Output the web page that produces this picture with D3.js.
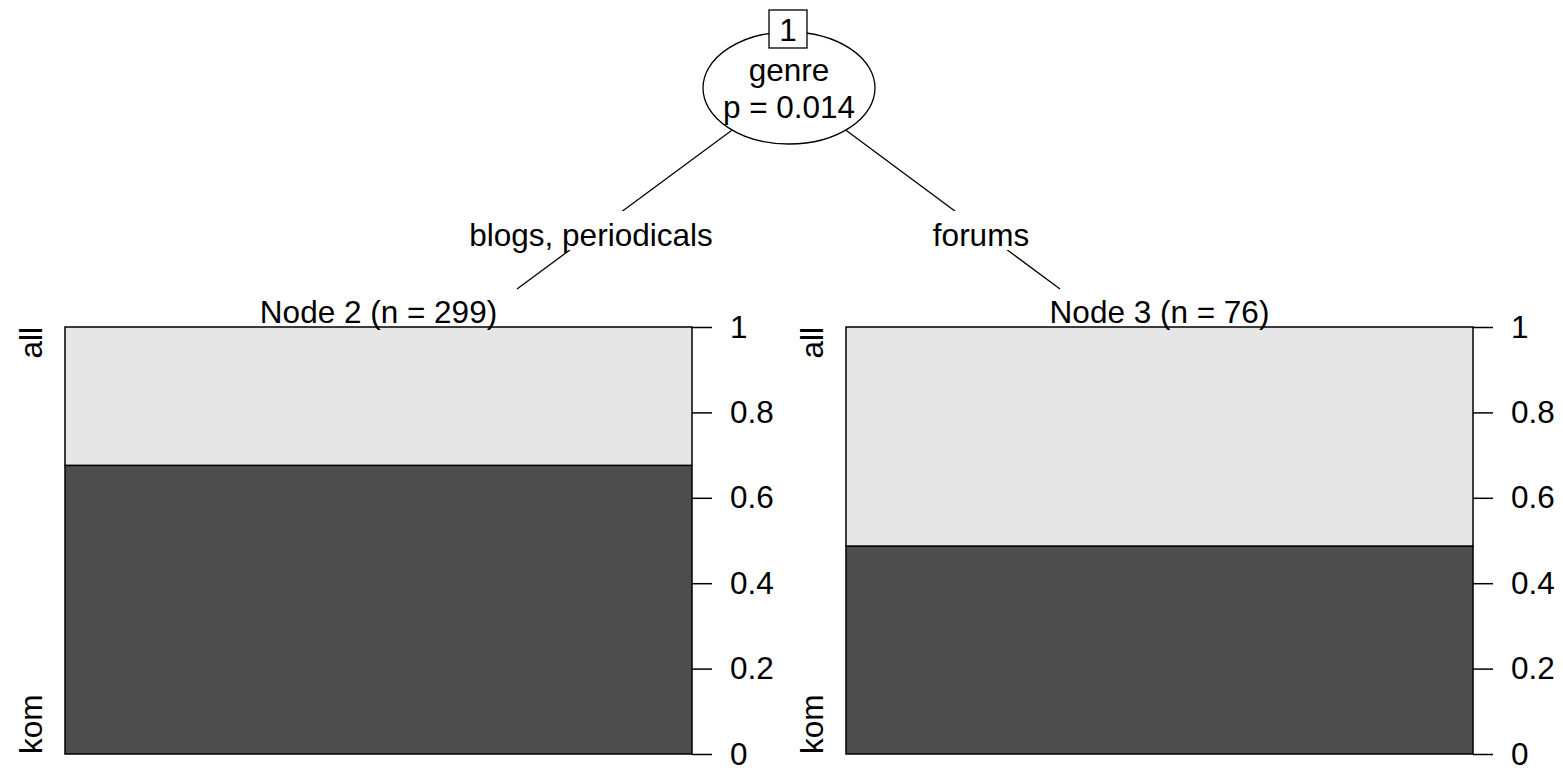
<!DOCTYPE html>
<html>
<head>
<meta charset="utf-8">
<script src="https://cdn.jsdelivr.net/npm/d3@7"></script>
<style>
  html, body { margin: 0; padding: 0; background: #fff; }
  svg text { font-family: "Liberation Sans", Arial, sans-serif; font-size: 31.5px; fill: #000; }
</style>
</head>
<body>
<svg id="tree" width="1563" height="771"></svg>
<script>
// data
var splitVar = "genre";
var pValue = "p = 0.014";
var rootId = 1;
var nodeIds = [2, 3];
var nodeN = [299, 76];
var levels = ["kom", "all"];          // bottom to top
var komProp = [0.676, 0.487];         // share of "kom" per terminal node
var edgeLabels = ["blogs, periodicals", "forums"];
var tickValues = [0, 0.2, 0.4, 0.6, 0.8, 1];
var tickLabels = ["0", "0.2", "0.4", "0.6", "0.8", "1"];

var svg = d3.select('#tree');
var fills = { kom: "#4d4d4d", all: "#e6e6e6" };

// layout
var panelTop = 327, panelBottom = 754, panelW = 627;
var panelLeft = [65, 846];
var root = { x: 789, y: 88, rx: 86, ry: 56 };
var edgeEnd = [[517, 289], [1060, 289]];
var labelPos = [[591, 235], [981, 235]];

var y = d3.scaleLinear().domain([0, 1]).range([panelBottom, panelTop]);

// edges (line first, label box and ellipse drawn over it)
var edges = svg.append('g');
nodeIds.forEach(function(id, i) {
  edges.append('line')
    .attr('x1', root.x).attr('y1', root.y)
    .attr('x2', edgeEnd[i][0]).attr('y2', edgeEnd[i][1])
    .attr('stroke', '#000').attr('stroke-width', 1.3);
  var t = edges.append('text')
    .attr('x', labelPos[i][0]).attr('y', labelPos[i][1])
    .attr('text-anchor', 'middle').attr('dominant-baseline', 'central')
    .text(edgeLabels[i]);
  var bb = t.node().getBBox();
  edges.insert('rect', 'text:last-child')
    .attr('x', bb.x - 4).attr('y', labelPos[i][1] - 24)
    .attr('width', bb.width + 8).attr('height', 39)
    .attr('fill', '#fff');
});

// inner node
var inner = svg.append('g');
inner.append('ellipse')
  .attr('cx', root.x).attr('cy', root.y)
  .attr('rx', root.rx).attr('ry', root.ry)
  .attr('fill', '#fff').attr('stroke', '#000').attr('stroke-width', 1.3);
inner.append('text').attr('x', root.x).attr('y', 81)
  .attr('text-anchor', 'middle').text(splitVar);
inner.append('text').attr('x', root.x).attr('y', 118)
  .attr('text-anchor', 'middle').text(pValue);
inner.append('rect')
  .attr('x', 769).attr('y', 10).attr('width', 38).attr('height', 38)
  .attr('fill', '#fff').attr('stroke', '#000').attr('stroke-width', 1.3);
inner.append('text').attr('x', 788).attr('y', 41)
  .attr('text-anchor', 'middle').text(rootId);

// terminal nodes: stacked bars
nodeIds.forEach(function(id, i) {
  var g = svg.append('g');
  var x0 = panelLeft[i];
  var x1 = x0 + panelW;
  var stack = [
    { lev: levels[0], lo: 0, hi: komProp[i] },
    { lev: levels[1], lo: komProp[i], hi: 1 }
  ];
  g.selectAll('rect.seg').data(stack).join('rect')
    .attr('class', 'seg')
    .attr('x', x0).attr('width', panelW)
    .attr('y', function(d) { return y(d.hi); })
    .attr('height', function(d) { return y(d.lo) - y(d.hi); })
    .attr('fill', function(d) { return fills[d.lev]; })
    .attr('stroke', '#000').attr('stroke-width', 1.5);

  g.append('text')
    .attr('x', (x0 + x1) / 2).attr('y', 323)
    .attr('text-anchor', 'middle')
    .text('Node ' + id + ' (n = ' + nodeN[i] + ')');

  // right axis
  var axis = d3.axisRight(y).tickValues(tickValues)
    .tickFormat(function(d, j) { return tickLabels[j]; })
    .tickSize(20).tickPadding(18);
  var ag = g.append('g').attr('transform', 'translate(' + x1 + ',0)').call(axis);
  ag.select('.domain').remove();
  ag.selectAll('line').attr('stroke', '#000').attr('stroke-width', 1.5);
  ag.selectAll('text').attr('font-family', '"Liberation Sans", Arial, sans-serif')
    .attr('font-size', 31.5).attr('fill', '#000');

  // level labels on the left
  g.append('text')
    .attr('transform', 'translate(' + (x0 - 23) + ',' + panelTop + ') rotate(-90)')
    .attr('text-anchor', 'end').text(levels[1]);
  g.append('text')
    .attr('transform', 'translate(' + (x0 - 23) + ',' + panelBottom + ') rotate(-90)')
    .attr('text-anchor', 'start').text(levels[0]);
});
</script>
</body>
</html>
